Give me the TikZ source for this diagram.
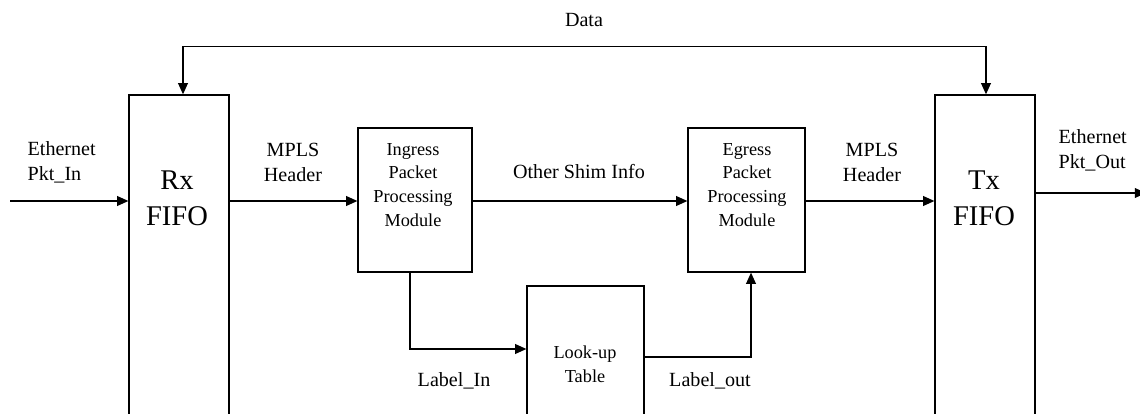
\documentclass[tikz,border=0pt]{standalone}
\usepackage{fontspec}
\setmainfont{Liberation Serif}
\usetikzlibrary{arrows.meta,calc}

\begin{document}
\begin{tikzpicture}[x=0.025cm,y=-0.025cm,
  line width=0.9pt,
  arr/.style={-{Triangle[length=8pt,width=7pt]}},
  biarr/.style={{Triangle[length=8pt,width=7pt]}-{Triangle[length=8pt,width=7pt]}},
  block/.style={draw,line width=0.9pt,inner sep=0pt,fill=white},
  lbl/.style={font=\fontsize{14.3}{17.7}\selectfont,align=center,inner sep=0pt},
  boxtxt/.style={font=\fontsize{13}{17}\selectfont,align=center,inner sep=0pt},
  bigtxt/.style={font=\fontsize{20.3}{26}\selectfont,align=center,inner sep=0pt}]

  \clip (0,0) rectangle (1140,414);
  \fill[white] (0,0) rectangle (1140,414);

  % functional blocks
  \node[block,minimum width=2.5cm,minimum height=8.625cm] (rx) at (179,267.5) {};
  \node[block,minimum width=2.5cm,minimum height=8.625cm] (tx) at (985,267.5) {};
  \node[block,minimum width=2.85cm,minimum height=3.6cm] (ingress) at (415,200) {};
  \node[block,minimum width=2.925cm,minimum height=3.6cm] (egress) at (746.5,200) {};
  \node[block,minimum width=2.925cm,minimum height=3.85cm] (lookup) at (585.5,363) {};

  % block titles
  \node[bigtxt] (rxt) at (177,198.5) {Rx\\FIFO};
  \node[bigtxt] (txt) at (984,198.5) {Tx\\FIFO};
  \node[boxtxt] (ingt) at (413,185) {Ingress\\Packet\\Processing\\Module};
  \node[boxtxt] (egt) at (747,185) {Egress\\Packet\\Processing\\Module};
  \node[boxtxt] (lut) at (585,364) {Look-up\\Table};

  % signal labels
  \node[lbl] (data) at (584,20) {Data};
  \node[lbl,align=left,anchor=west] (ethin) at (27,162) {Ethernet\\Pkt\_In};
  \node[lbl] (mpls1) at (293,162) {MPLS\\Header};
  \node[lbl] (shim) at (579,172) {Other Shim Info};
  \node[lbl] (mpls2) at (872,162) {MPLS\\Header};
  \node[lbl,align=left,anchor=west] (ethout) at (1058,150) {Ethernet\\Pkt\_Out};
  \node[lbl] (lin) at (454,381) {Label\_In};
  \node[lbl] (lout) at (710,381) {Label\_out};

  % connectors
  \coordinate (pin) at (10,201);
  \coordinate (pout) at (1146,193);
  \draw[arr] (pin) -- (pin -| rx.west);
  \draw[arr] (rx.east |- pin) -- (ingress.west |- pin);
  \draw[arr] (ingress.east |- pin) -- (egress.west |- pin);
  \draw[arr] (egress.east |- pin) -- (tx.west |- pin);
  \draw[arr] (tx.east |- pout) -- (pout);
  \draw[biarr] ([xshift=0.1cm]rx.north) -- ++(0,-48) -| ([xshift=0.025cm]tx.north);
  \draw[arr] ([xshift=-0.125cm]ingress.south) |- ([yshift=0.35cm]lookup.west);
  \draw[arr] ([yshift=0.15cm]lookup.east) -| ([xshift=0.1125cm]egress.south);
\end{tikzpicture}
\end{document}
